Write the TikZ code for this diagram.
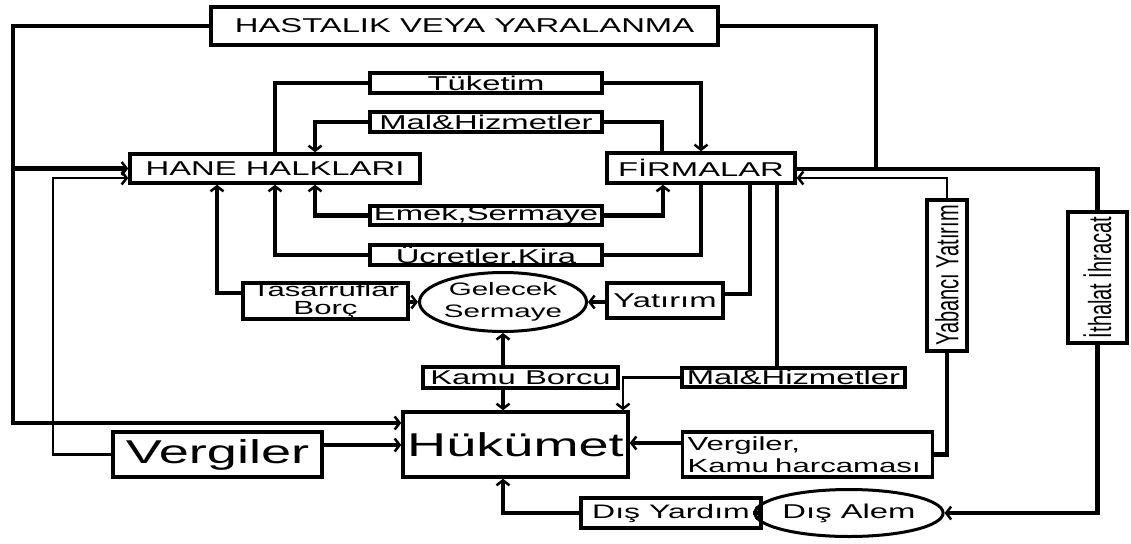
\documentclass[tikz,border=0pt]{standalone}
\usepackage{fontspec}
\setmainfont{Liberation Sans}[FakeStretch=1.64]
\newfontfamily\plainsans{Liberation Sans}
\usetikzlibrary{arrows.meta,shapes.geometric}
\newcommand\fsz[2]{\fontsize{#1}{#2}\selectfont}

\begin{document}
\begin{tikzpicture}[x=1pt,y=-1pt,
  box/.style={draw,line width=3.5pt,inner sep=0pt,align=center,font=\fsz{20}{20}},
  oval/.style={draw,ellipse,line width=3pt,inner sep=0pt,align=center,font=\fsz{20}{20}},
  thk/.style={line width=4.5pt},
  mid/.style={line width=3.5pt},
  thn/.style={line width=2.5pt},
  arr/.style={-{Straight Barb[length=5pt,width=13pt,line width=2.5pt]}},
]
\useasboundingbox (0,0) rectangle (1131,543);

% boxes
\node[box,minimum width=507,minimum height=38] (hast) at (464.5,26) {HASTALIK VEYA YARALANMA};
\node[box,minimum width=290,minimum height=29] (hane) at (275,168.5) {HANE HALKLARI};
\node[box,minimum width=188,minimum height=30] (firm) at (701,168) {FİRMALAR};
\node[box,minimum width=232,minimum height=20] (tuk) at (486,83) {Tüketim};
\node[box,minimum width=232,minimum height=20] (mal1) at (486,122) {Mal\&Hizmetler};
\node[box,minimum width=232,minimum height=19] (emek) at (486,215.5) {Emek,Sermaye};
\node[box,minimum width=232,minimum height=20,text height=16pt,text depth=0pt] (ucr) at (486,255) {Ücretler,Kira};
\node[box,minimum width=165,minimum height=36,font=\fsz{19}{18}] (tas) at (325.5,301) {Tasarruflar\\Borç};
\node[oval,minimum width=149,minimum height=59,font=\fsz{18}{22}] (gel) at (503,302) {Gelecek\\Sermaye};
\node[box,minimum width=116,minimum height=35] (yat) at (665,300.5) {Yatırım};
\node[box,minimum width=195,minimum height=21] (kamu) at (520.5,377.5) {Kamu Borcu};
\node[box,minimum width=223,minimum height=19] (mal2) at (793.5,377.5) {Mal\&Hizmetler};
\node[box,minimum width=225,minimum height=65,font=\fsz{33}{33}] (huk) at (515.5,444.5) {Hükümet};
\node[box,minimum width=209,minimum height=45,font=\fsz{33}{33}] (verg) at (217.5,454.5) {Vergiler};
\node[box,text width=240pt,inner xsep=5pt,minimum height=45,align=left,font=\fsz{19}{22}] (vkh) at (807.5,454.5) {Vergiler,\\Kamu harcaması};
\node[box,minimum width=40,minimum height=151] (yab) at (947,275.5)
  {\rotatebox{90}{\scalebox{1}[1.6]{\plainsans Yabancı Yatırım}}};
\node[box,minimum width=59,minimum height=131] (ith) at (1097.5,277.5)
  {\rotatebox{90}{\scalebox{1}[1.6]{\plainsans İthalat İhracat}}};
\node[oval,minimum width=152,minimum height=47] (disal) at (849,513) {Dış Alem};
\node[box,minimum width=180,minimum height=30,font=\fsz{19.5}{20}] (disy) at (671,513) {Dış Yardım};

% outer left frame
\draw[thk,arr] (hast.west) -- (13,26) -- (13,423) -- (huk.west |- 0,423);
\draw[thk,arr] (13,168.5) -- (hane.west);
\draw[thn,arr] (verg.west) -- (53,454.5) -- (53,178) -- (hane.west |- 0,178);
\draw[thk,arr] (verg.east |- 0,445) -- (huk.west |- 0,445);

% outer right frame
\draw[thk] (hast.east) -| (876,169);
\draw[thk] (firm.east |- 0,169) -| (ith.north);
\draw[thk,arr] (ith.south) |- (disal.east);
\draw[thn,arr] (yab.north) |- (firm.east |- 0,178);
\draw[thk] (yab.south) |- (vkh.east);
\draw[thk,arr] (vkh.west |- 0,443) -- (huk.east |- 0,443);

% household / firm loop
\draw[thk] (tuk.west) -| (hane.north);
\draw[thk,arr] (tuk.east) -| (firm.north);
\draw[thk,arr] (mal1.west) -| (hane.north -| 315,0);
\draw[thk] (mal1.east) -| (firm.north -| 662,0);
\draw[thk,arr] (emek.west) -| (hane.south -| 315,0);
\draw[thk,arr] (emek.east) -| (firm.south -| 663,0);
\draw[thk,arr] (ucr.west) -| (hane.south);
\draw[thk] (ucr.east) -| (firm.south);

% savings, investment, government
\draw[thk,arr] (tas.west |- 0,293) -| (hane.south -| 217,0);
\draw[mid,arr] (tas.east |- gel.west) -- (gel.west);
\draw[mid,arr] (yat.west |- gel.east) -- (gel.east);
\draw[thk] (yat.east |- 0,294) -| (firm.south -| 750,0);
\draw[mid,arr] (kamu.north -| 503,0) -- (gel.south);
\draw[mid,arr] (kamu.south -| 503,0) -- (huk.north -| 503,0);
\draw[thk] (firm.south -| 777,0) -- (mal2.north -| 777,0);
\draw[thn,arr] (mal2.west) -| (huk.north -| 623,0);
\draw[mid,arr] (disal.west) -- (disy.east);
\draw[thk,arr] (disy.west) -| (huk.south -| 503,0);
\end{tikzpicture}
\end{document}
